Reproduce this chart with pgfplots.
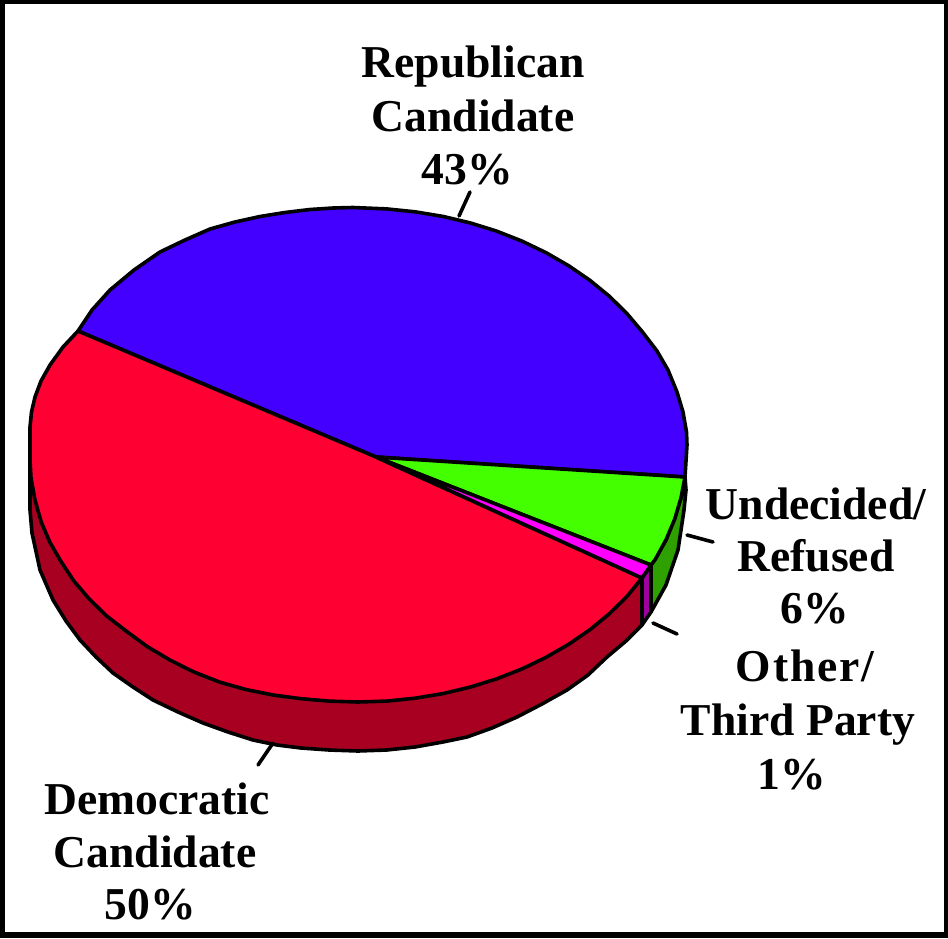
\documentclass[border=0pt]{standalone}
\usepackage{fontspec}
\setmainfont{Liberation Serif}
\usepackage{pgfplots}
\pgfplotsset{compat=1.18}
\definecolor{rep}{HTML}{4400FF}
\definecolor{dem}{HTML}{FF0033}
\definecolor{und}{HTML}{44FF00}
\definecolor{oth}{HTML}{FF00FF}
\definecolor{demside}{HTML}{A80020}
\definecolor{undside}{HTML}{2EA000}
\definecolor{othside}{HTML}{A000A0}
\begin{document}
\begin{tikzpicture}
\begin{axis}[
  width=948pt, height=938pt, scale only axis,
  xmin=0, xmax=948, ymin=0, ymax=938, y dir=reverse,
  hide axis, clip=false,
  every axis plot/.append style={line width=3.6pt, line join=round, line cap=round},
]
% frame
\addplot[fill=black, draw=none, line width=0pt, no markers] coordinates {(0,0) (948,0) (948,938) (0,938)} -- cycle;
\addplot[fill=white, draw=none, line width=0pt, no markers] coordinates {(4.5,3.5) (943.5,3.5) (943.5,932) (4.5,932)} -- cycle;
% sides
\addplot[fill=demside, draw=black, no markers] coordinates {(30,440) (30,510) (32,533) (40,570) (53,600) (66,621) (80,640) (96,657) (113,673) (133,687) (153,700) (178,712) (203,723) (228,732) (253,740) (277,745) (301,748) (329,750) (358,751) (386.6,750) (415,747) (442.9,742) (467,737) (492,728) (517,717) (542,704) (567,690) (588,675) (607,657) (626,641) (642,625) (642,578)} -- cycle;
\addplot[fill=othside, draw=black, no markers] coordinates {(642,578) (651,565) (651,612) (642,625)} -- cycle;
\addplot[fill=undside, draw=black, no markers] coordinates {(651,565) (666.2,539.5) (681,497.9) (685,477) (686,490) (684,510) (678,550) (666,585) (651,612)} -- cycle;
% top face
\addplot[fill=rep, draw=black, no markers] coordinates {(376,457) (78,331) (92,310) (110,290) (134,270) (160,252) (185,240) (210,229) (235,222) (260,216.5) (285,212.5) (310,209.5) (333,208) (353,207.5) (386.6,208.9) (415,211.8) (442.9,216.4) (470.2,222.9) (496.6,231.1) (522,241.1) (546.1,252.7) (568.8,265.8) (589.9,280.3) (609.3,296.2) (626.7,313.3) (642.1,331.5) (657,351) (668,370) (677,392) (683,412) (686.5,432) (687,445) (685,477)} -- cycle;
\addplot[fill=dem, draw=black, no markers] coordinates {(376,457) (78,331) (63,347) (50,365) (41,381) (35,397) (31.5,412) (30,427) (30,460) (31,478) (35,500) (41.2,522) (49.8,542) (60.7,561) (73.9,581) (89.3,599) (106.7,616) (126.1,631) (147.2,646.5) (169.9,660) (194,672) (219.4,682) (245.8,689.5) (273.1,695) (301,698.7) (329.4,701.1) (358,702) (386.6,701.1) (415,698.2) (442.9,693.6) (470.2,687.1) (496.6,678.9) (522,668.9) (546.1,657.3) (568.8,644.2) (589.9,629.7) (609.3,613.8) (626.7,596.7) (642,578)} -- cycle;
\addplot[fill=und, draw=black, no markers] coordinates {(376,457) (685,477) (681,497.9) (674.8,518.9) (666.2,539.5) (655.3,559.4) (651,565)} -- cycle;
\addplot[fill=oth, draw=black, no markers] coordinates {(376,457) (651,565) (642,578)} -- cycle;
% leader lines
\addplot[draw=black, no markers] coordinates {(470,192) (459,216)};
\addplot[draw=black, no markers] coordinates {(687,535) (713,542)};
\addplot[draw=black, no markers] coordinates {(653,623) (677,634)};
\addplot[draw=black, no markers] coordinates {(273,743) (258,765)};
% labels
\tikzset{lab/.style={anchor=base, font=\fontsize{45.6}{54}\selectfont\bfseries, inner sep=0pt, text=black}}
\node[lab] at (axis cs:473,77) {Republican};
\node[lab] at (axis cs:473,131) {Candidate};
\node[lab] at (axis cs:467,184) {43\%};
\node[lab] at (axis cs:816,519) {Undecided/};
\node[lab] at (axis cs:816,571) {Refused};
\node[lab] at (axis cs:815,623) {6\%};
\node[lab] at (axis cs:805,681) {\addfontfeature{LetterSpace=4}Other/};
\node[lab] at (axis cs:798,735) {Third Party};
\node[lab] at (axis cs:792,789) {1\%};
\node[lab] at (axis cs:157,814) {Democratic};
\node[lab] at (axis cs:155,867) {Candidate};
\node[lab] at (axis cs:150,919) {50\%};
\end{axis}
\end{tikzpicture}
\end{document}
